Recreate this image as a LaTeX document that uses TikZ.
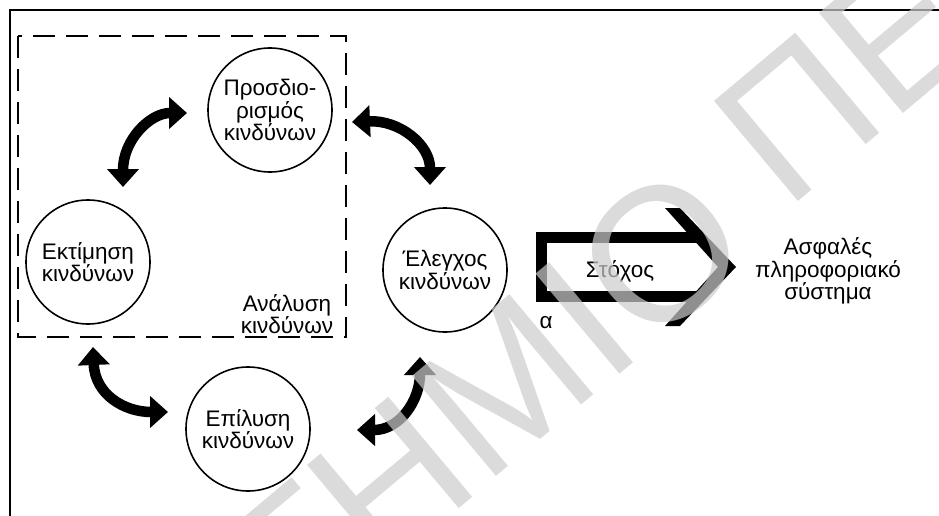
\documentclass[tikz,border=0pt]{standalone}
\usepackage{fontspec}
\setmainfont{Liberation Sans}
\usetikzlibrary{arrows.meta}
\begin{document}
\begin{tikzpicture}[x=1pt,y=-1pt,
  stage/.style={circle,draw,line width=1.6pt,minimum size=124pt,inner sep=0pt,
    align=center,font=\fontsize{22.5}{22.5}\selectfont},
  lbl/.style={align=center,inner sep=0pt,font=\fontsize{22.5}{22.5}\selectfont},
  cyc/.style={line width=10.5pt,
    {Triangle[width=31pt,length=18pt]}-{Triangle[width=31pt,length=18pt]}},
  wmark/.style={inner sep=0pt,text=black!20,opacity=0.7,
    font=\fontsize{190}{190}\selectfont}]
\useasboundingbox (0,0) rectangle (939,516);
\clip (0,0) rectangle (939,516);

% outer frame (continues past the right and lower edges)
\draw[line width=1.8pt] (10,530) -- (10,10) -- (950,10);

% risk analysis group
\draw[line width=2.4pt,dash pattern=on 22pt off 11pt] (18,36) rectangle (346,337);
\node[lbl] (analysis) at (287,314) {Ανάλυση\\κινδύνων};

% the four stages of the cycle
\node[stage] (ident)   at (270,110) {Προσδιο-\\ρισμός\\κινδύνων};
\node[stage] (assess)  at (88,262)  {Εκτίμηση\\κινδύνων};
\node[stage] (control) at (445,270) {Έλεγχος\\κινδύνων};
\node[stage] (resolve) at (248,429) {Επίλυση\\κινδύνων};

% ends of the curved double arrows
\coordinate (tlA) at (123,187); \coordinate (tlB) at (187,113);
\coordinate (trA) at (352,122); \coordinate (trB) at (430,185);
\coordinate (blA) at (93,347);  \coordinate (blB) at (168,412);
\coordinate (brA) at (357,430); \coordinate (brB) at (420,357);

\draw[cyc] (tlA) .. controls (123,140) and (150,113) .. (tlB);
\draw[cyc] (trA) .. controls (400,120) and (430,145) .. (trB);
\draw[cyc] (blA) .. controls (95,395) and (125,412) .. (blB);
\draw[cyc] (brA) .. controls (400,430) and (420,400) .. (brB);

% goal arrow: open box with a chevron head
\draw[line width=11pt] (700,237.5) -- (541,237.5) -- (541,296) -- (700,296);
\fill (665,208) -- (680,208) -- (736,267) -- (680,326) -- (665,326) -- (718,267) -- cycle;
\node[lbl,anchor=base] (goal) at (620,277) {Στόχος};
\node[lbl,anchor=base] (alpha) at (546,328) {α};
\node[lbl] (target) at (828,271) {Ασφαλές\\πληροφοριακό\\σύστημα};

% watermark
\node[wmark,rotate=40,anchor=base east] (wm1) at (760,256) {ΠΑΝΕΠΙΣΤΗΜΙΟ};
\node[wmark,rotate=40,anchor=base west] (wm2) at (786,212) {ΠΕΙΡΑΙΩΣ};
\end{tikzpicture}
\end{document}
